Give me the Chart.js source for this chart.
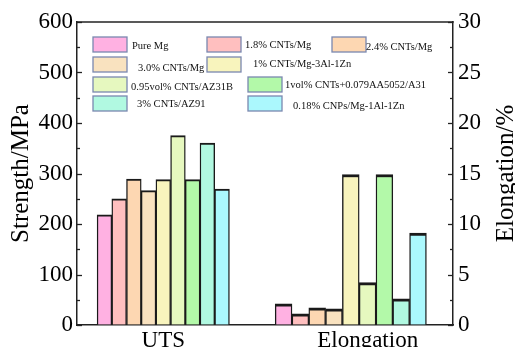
<!DOCTYPE html>
<html>
<head>
<meta charset="utf-8">
<script src="https://cdn.jsdelivr.net/npm/chart.js@4/dist/chart.umd.min.js"></script>
<style>
  html, body { margin: 0; padding: 0; background: #fff; }
  #wrap { width: 515px; height: 347px; position: relative; }
</style>
</head>
<body>
<div id="wrap"><canvas id="c" width="515" height="347"></canvas></div>
<script>
// Materials compared
const materials = [
  'Pure Mg',
  '1.8% CNTs/Mg',
  '2.4% CNTs/Mg',
  '3.0% CNTs/Mg',
  '1% CNTs/Mg-3Al-1Zn',
  '0.95vol% CNTs/AZ31B',
  '1vol% CNTs+0.079AA5052/A31',
  '3% CNTs/AZ91',
  '0.18% CNPs/Mg-1Al-1Zn'
];
// Ultimate tensile strength, MPa
const utsValues = [218, 250, 289, 266, 288, 375, 288, 360, 269];
// Elongation, %
const elongValues = [2.1, 1.1, 1.7, 1.6, 14.9, 4.2, 14.9, 2.6, 9.1];
// Group labels on the x axis
const groupLabels = ['UTS', 'Elongation'];
const rightAxisTitle = 'Elongation/%';

const fills = ['#ffb1e2', '#ffbfbf', '#fdd7b2', '#f9e2bf', '#f8f4bd', '#e6f8bf', '#b3f9a9', '#b1f9e1', '#abf8fd'];
const FONT = '"Liberation Serif", "Times New Roman", serif';

// UTS bars on the left axis, elongation bars on the right axis;
// each material shares a stack id so its two bars take the same slot.
const datasets = [];
materials.forEach((m, i) => {
  datasets.push({
    label: m,
    data: [{ x: 0, y: utsValues[i] }],
    yAxisID: 'y',
    stack: 's' + i,
    backgroundColor: fills[i],
    borderColor: '#1a1a1a',
    borderWidth: { top: 2, left: 1.4, right: 1.4, bottom: 0 },
    borderSkipped: 'start',
    barThickness: 14.7
  });
});
materials.forEach((m, i) => {
  datasets.push({
    label: m,
    data: [{ x: 1, y: elongValues[i] }],
    yAxisID: 'y2',
    stack: 's' + i,
    backgroundColor: fills[i],
    borderColor: '#1a1a1a',
    borderWidth: { top: 3, left: 1.4, right: 1.4, bottom: 0 },
    borderSkipped: 'start',
    barThickness: 16.8
  });
});

// Legend grid: box left/top and text left/middle for each material
const legendLayout = [
  { bx: 93, by: 37, tx: 132, ty: 46 },
  { bx: 207, by: 37, tx: 245, ty: 45 },
  { bx: 332, by: 37, tx: 366, ty: 47 },
  { bx: 93, by: 57, tx: 138, ty: 68 },
  { bx: 207, by: 57, tx: 253, ty: 64 },
  { bx: 93, by: 77, tx: 131, ty: 87 },
  { bx: 248, by: 77, tx: 285, ty: 85 },
  { bx: 93, by: 96, tx: 137, ty: 104 },
  { bx: 248, by: 96, tx: 293, ty: 106 }
];

const framePlugin = {
  id: 'frame',
  afterDraw(chart) {
    const ctx = chart.ctx;
    const { left, right, top, bottom } = chart.chartArea;
    const yl = chart.scales.y, yr = chart.scales.y2;
    ctx.save();
    ctx.strokeStyle = '#222';
    ctx.lineWidth = 1.3;
    // top edge of the frame
    ctx.beginPath();
    ctx.moveTo(left - 0.7, top);
    ctx.lineTo(right + 0.7, top);
    ctx.stroke();
    // inward ticks, major and minor
    for (let v = 0; v <= 600; v += 50) {
      const py = Math.round(yl.getPixelForValue(v)) + 0.5;
      const len = v % 100 === 0 ? 5 : 3;
      ctx.beginPath(); ctx.moveTo(left, py); ctx.lineTo(left + len, py); ctx.stroke();
    }
    for (let v = 0; v <= 30; v += 2.5) {
      const py = Math.round(yr.getPixelForValue(v)) + 0.5;
      const len = v % 5 === 0 ? 5 : 3;
      ctx.beginPath(); ctx.moveTo(right, py); ctx.lineTo(right - len, py); ctx.stroke();
    }
    // right axis title, reading bottom to top
    ctx.save();
    ctx.translate(506, (top + bottom) / 2);
    ctx.rotate(-Math.PI / 2);
    ctx.font = '25px ' + FONT;
    ctx.fillStyle = '#000';
    ctx.textAlign = 'center';
    ctx.textBaseline = 'middle';
    ctx.fillText(rightAxisTitle, 0, 0);
    ctx.restore();
    // legend
    ctx.font = '10.5px ' + FONT;
    ctx.textBaseline = 'middle';
    ctx.textAlign = 'left';
    legendLayout.forEach((p, i) => {
      ctx.fillStyle = fills[i];
      ctx.fillRect(p.bx, p.by, 34, 15);
      ctx.strokeStyle = '#7a88b0';
      ctx.lineWidth = 1.3;
      ctx.strokeRect(p.bx, p.by, 34, 15);
      ctx.fillStyle = '#111';
      ctx.fillText(materials[i], p.tx, p.ty);
    });
    ctx.restore();
  }
};

new Chart(document.getElementById('c'), {
  type: 'bar',
  data: { datasets },
  options: {
    responsive: false,
    animation: false,
    layout: { padding: { top: 22, bottom: 0, left: 0, right: 0 } },
    plugins: { legend: { display: false }, tooltip: { enabled: false } },
    scales: {
      x: {
        type: 'linear',
        offset: false,
        min: -0.46,
        max: 1.545,
        afterBuildTicks(scale) { scale.ticks = [{ value: 0 }, { value: 1.09 }]; },
        afterFit(scale) { scale.height = 22; },
        ticks: {
          autoSkip: false,
          maxRotation: 0,
          padding: 2,
          color: '#000',
          font: { family: FONT, size: 23 },
          callback: (v, i) => groupLabels[i]
        },
        grid: { offset: false, drawOnChartArea: false, drawTicks: false },
        border: { display: true, color: '#222', width: 1.5 }
      },
      y: {
        position: 'left',
        min: 0,
        max: 600,
        afterFit(scale) { scale.width = 77; },
        ticks: { stepSize: 100, padding: 4, color: '#000', font: { family: FONT, size: 23 } },
        grid: { drawOnChartArea: false, drawTicks: false },
        border: { display: true, color: '#222', width: 1.5 },
        title: {
          display: true,
          text: 'Strength/MPa',
          color: '#000',
          font: { family: FONT, size: 25, lineHeight: 1 },
          padding: { top: 9, bottom: 0 }
        }
      },
      y2: {
        position: 'right',
        min: 0,
        max: 30,
        afterFit(scale) { scale.width = 62; },
        ticks: { stepSize: 5, padding: 5, color: '#000', font: { family: FONT, size: 23 } },
        grid: { drawOnChartArea: false, drawTicks: false },
        border: { display: true, color: '#222', width: 1.5 }
      }
    }
  },
  plugins: [framePlugin]
});
</script>
</body>
</html>
